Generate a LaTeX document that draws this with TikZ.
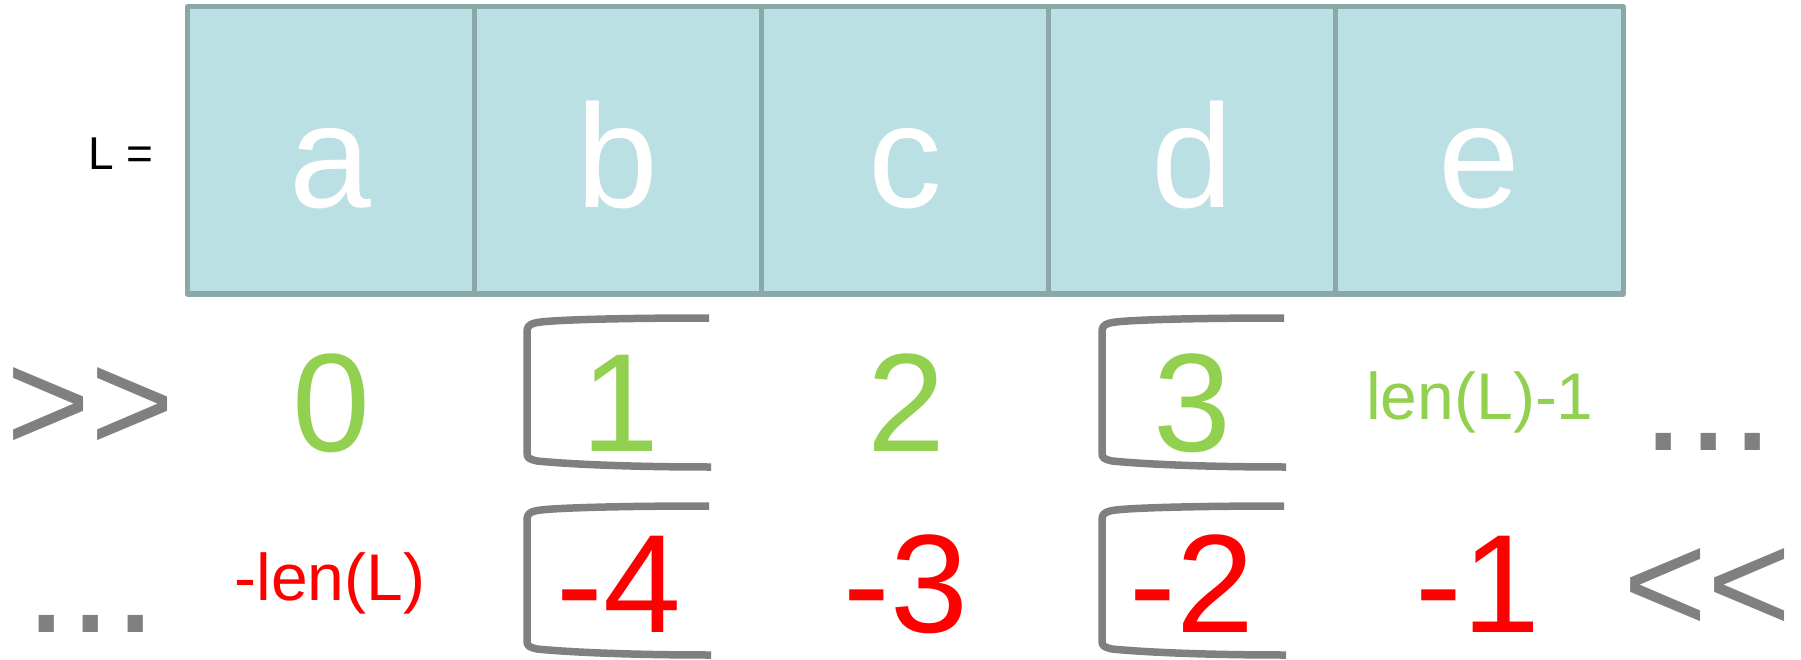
\documentclass[tikz,border=0pt]{standalone}
\usepackage{fontspec}
\setmainfont{Liberation Sans}[Ligatures=ResetAll]
\definecolor{cellfill}{HTML}{BBE0E3}
\definecolor{cellline}{HTML}{8AA8A8}
\definecolor{posgreen}{HTML}{92D050}
\definecolor{brkgray}{HTML}{808080}
\tikzset{
  cell/.style={draw=cellline, fill=cellfill, line width=5pt, minimum width=287.2pt,
    minimum height=287pt, inner sep=0pt, outer sep=0pt, line join=round},
  lbl/.style={anchor=base, inner sep=0pt, font=\fontsize{147}{147}\selectfont, text=white},
  posnum/.style={anchor=base, inner sep=0pt, font=\fontsize{140}{140}\selectfont, text=posgreen},
  negnum/.style={anchor=base, inner sep=0pt, font=\fontsize{140}{140}\selectfont, text=red},
  lentext/.style={anchor=base, inner sep=0pt, font=\fontsize{66}{66}\selectfont},
  graytext/.style={anchor=base, inner sep=0pt, text=brkgray},
  brk/.style={draw=brkgray, line width=7.5pt, line join=round},
  brkpic/.pic={
    \draw[brk] (182,0) .. controls (90,0) and (18,2) .. (8,5)
      .. controls (1,7) and (0,9) .. (0,15) -- (0,135)
      .. controls (0,140) and (2,141) .. (10,143)
      .. controls (40,146) and (100,149) .. (184,149);
  }
}
\begin{document}
\begin{tikzpicture}[x=1pt,y=-1pt]
\useasboundingbox (0,0) rectangle (1801,660);
% list cells
\node[cell] (c1) at (330.6,150.5) {};
\node[cell] (c2) at (617.8,150.5) {};
\node[cell] (c3) at (905.0,150.5) {};
\node[cell] (c4) at (1192.2,150.5) {};
\node[cell] (c5) at (1479.4,150.5) {};
\node[lbl] (la) at (330.6,208) {a};
\node[lbl] (lb) at (617.8,208) {b};
\node[lbl] (lc) at (905.0,208) {c};
\node[lbl] (ld) at (1192.2,208) {d};
\node[lbl] (le) at (1479.4,208) {e};
\node[anchor=base, inner sep=0pt, font=\fontsize{46}{46}\selectfont] (Leq) at (121,170) {L =};
% positive indices
\node[graytext, font=\fontsize{144}{144}\selectfont] (fwd) at (90.5,451) {>\kern0pt>};
\node[posnum] (p0) at (331,451) {0};
\node[posnum] (p1) at (620,451) {1};
\node[posnum] (p2) at (906,451) {2};
\node[posnum] (p3) at (1192,451) {3};
\node[lentext, text=posgreen] (plast) at (1480,419) {len(L)-1};
\node[graytext, font=\fontsize{160}{160}\selectfont] (pdots) at (1708.5,450) {...};
% negative indices
\node[graytext, font=\fontsize{160}{160}\selectfont] (ndots) at (91,632) {...};
\node[lentext, text=red] (nfirst) at (330,600) {-len(L)};
\node[negnum] (n4) at (619,632) {-4};
\node[negnum] (n3) at (906,632) {-3};
\node[negnum] (n2) at (1192,632) {-2};
\node[negnum] (n1) at (1478,632) {-1};
\node[graytext, font=\fontsize{144}{144}\selectfont] (bwd) at (1707.5,632) {<\kern0pt<};
% brackets
\pic at (527,318) {brkpic};
\pic at (1102,318) {brkpic};
\pic at (527,506) {brkpic};
\pic at (1102,506) {brkpic};
\end{tikzpicture}
\end{document}
